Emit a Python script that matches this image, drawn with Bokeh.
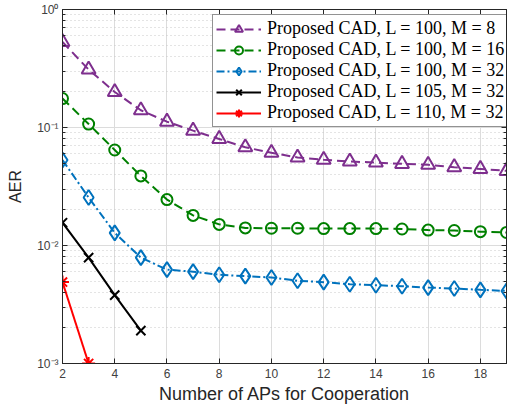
from bokeh.plotting import figure
from bokeh.models import (Legend, LegendItem, FixedTicker, CustomJSTickFormatter,
                          LinearAxis, LogAxis, Range1d)
from bokeh.embed import file_html
from bokeh.resources import INLINE

# ---------------- data ----------------
x_m8 = list(range(2, 20))
aer_m8 = [0.53, 0.31, 0.20, 0.14, 0.112, 0.094, 0.080, 0.068, 0.061, 0.0557,
          0.0533, 0.0515, 0.0505, 0.0492, 0.0483, 0.0461, 0.0446, 0.0429]

x_m16 = list(range(2, 20))
aer_m16 = [0.176, 0.107, 0.0645, 0.0389, 0.0245, 0.0180, 0.0151, 0.0141, 0.0140, 0.0140,
           0.0139, 0.0139, 0.0139, 0.0138, 0.0135, 0.0134, 0.0131, 0.0129]

x_m32 = list(range(2, 20))
aer_m32 = [0.053, 0.0255, 0.0128, 0.0079, 0.00624, 0.0060, 0.00565, 0.0055, 0.00536, 0.00502,
           0.00489, 0.0047, 0.00461, 0.00452, 0.0044, 0.00432, 0.00421, 0.00412]

x_l105 = [2, 3, 4, 5]
aer_l105 = [0.0156, 0.0079, 0.0038, 0.0019]

x_l110 = [2, 3]
aer_l110 = [0.0049, 0.001]

labels = ["Proposed CAD, L = 100, M = 8",
          "Proposed CAD, L = 100, M = 16",
          "Proposed CAD, L = 100, M = 32",
          "Proposed CAD, L = 105, M = 32",
          "Proposed CAD, L = 110, M = 32"]

x_ticks = [2, 4, 6, 8, 10, 12, 14, 16, 18]
y_ticks = [1e-3, 1e-2, 1e-1, 1e0]

# ---------------- figure ----------------
AX = "#262626"
p = figure(width=509, height=407, y_axis_type="log",
           x_range=Range1d(2, 19), y_range=Range1d(1e-3, 1),
           output_backend="svg", toolbar_location=None,
           min_border_left=62, min_border_right=0, min_border_top=9, min_border_bottom=44)
p.background_fill_color = "white"
p.outline_line_color = AX
p.outline_line_width = 1

minor = [m * 10.0 ** e for e in (-3, -2, -1) for m in range(2, 10)]
p.yaxis.ticker = FixedTicker(ticks=y_ticks, minor_ticks=minor)
p.xaxis.ticker = FixedTicker(ticks=x_ticks, minor_ticks=[])
p.yaxis.formatter = CustomJSTickFormatter(code="""
    const sup = {'-':'\u207B','0':'\u2070','1':'\u00B9','2':'\u00B2','3':'\u00B3',
                 '4':'\u2074','5':'\u2075','6':'\u2076','7':'\u2077','8':'\u2078','9':'\u2079'};
    const e = String(Math.round(Math.log10(tick)));
    return '10' + e.split('').map(c => sup[c]).join('');
""")

for ax in (p.xaxis[0], p.yaxis[0]):
    ax.axis_line_color = AX
    ax.major_tick_line_color = AX
    ax.minor_tick_line_color = AX
    ax.major_tick_in = 5
    ax.major_tick_out = 0
    ax.minor_tick_in = 3
    ax.minor_tick_out = 0
    ax.major_label_text_font = "Liberation Sans"
    ax.major_label_text_font_size = "12px"
    ax.major_label_text_color = "#404040"
    ax.axis_label_text_font = "Liberation Sans"
    ax.axis_label_text_font_style = "normal"
    ax.axis_label_text_color = AX

p.xaxis.axis_label = "Number of APs for Cooperation"
p.xaxis.axis_label_text_font_size = "18px"
p.xaxis.axis_label_standoff = 3
p.xaxis.major_label_standoff = 5
p.yaxis.axis_label = "AER"
p.yaxis.axis_label_text_font_size = "16px"
p.yaxis.axis_label_standoff = 10
p.yaxis.major_label_standoff = 4

# top / right ticks (box on), without labels
top = LinearAxis(ticker=FixedTicker(ticks=x_ticks, minor_ticks=[]),
                 major_label_overrides={t: " " for t in x_ticks})
right = LogAxis(ticker=FixedTicker(ticks=y_ticks, minor_ticks=minor),
                major_label_overrides={t: " " for t in y_ticks})
for ax in (top, right):
    ax.major_label_text_font_size = "1px"
    ax.major_label_standoff = 0
    ax.major_tick_in = 5
    ax.major_tick_out = 0
    ax.minor_tick_in = 3
    ax.minor_tick_out = 0
    ax.axis_line_color = AX
    ax.major_tick_line_color = AX
    ax.minor_tick_line_color = AX
p.add_layout(top, "above")
p.add_layout(right, "right")

p.xgrid.grid_line_color = "#dcdcdc"
p.ygrid.grid_line_color = "#dcdcdc"
p.ygrid.minor_grid_line_color = "#c8c8c8"
p.ygrid.minor_grid_line_dash = "1 3"

# ---------------- series ----------------
series = [
    (x_m8, aer_m8, "#7E2F8E", "9 5", "triangle", 14),
    (x_m16, aer_m16, "#008000", "9 5", "circle", 11),
    (x_m32, aer_m32, "#0072BD", "8 3 2 3", "diamond", 15),
    (x_l105, aer_l105, "black", "solid", "x", 13),
    (x_l110, aer_l110, "#FF0000", "solid", "asterisk", 13),
]

items = []
for (xs, ys, col, dash, mk, sz), lab in zip(series, labels):
    r1 = p.line(xs, ys, line_color=col, line_width=2, line_dash=dash)
    r2 = p.scatter(xs, ys, marker=mk, size=sz, line_color=col, line_width=2,
                   fill_color="white", fill_alpha=0)
    items.append(LegendItem(label=lab, renderers=[r1, r2]))

legend = Legend(items=items, location=(150, 236))
legend.label_text_font = "Liberation Serif"
legend.label_text_font_size = "18px"
legend.label_text_color = "black"
legend.glyph_width = 45
legend.glyph_height = 20
legend.label_height = 20
legend.label_standoff = 6
legend.spacing = 0
legend.padding = 3
legend.margin = 0
legend.border_line_color = AX
legend.border_line_width = 1
legend.background_fill_alpha = 1
p.add_layout(legend, "center")

open("out.html", "w").write(file_html(p, INLINE))
